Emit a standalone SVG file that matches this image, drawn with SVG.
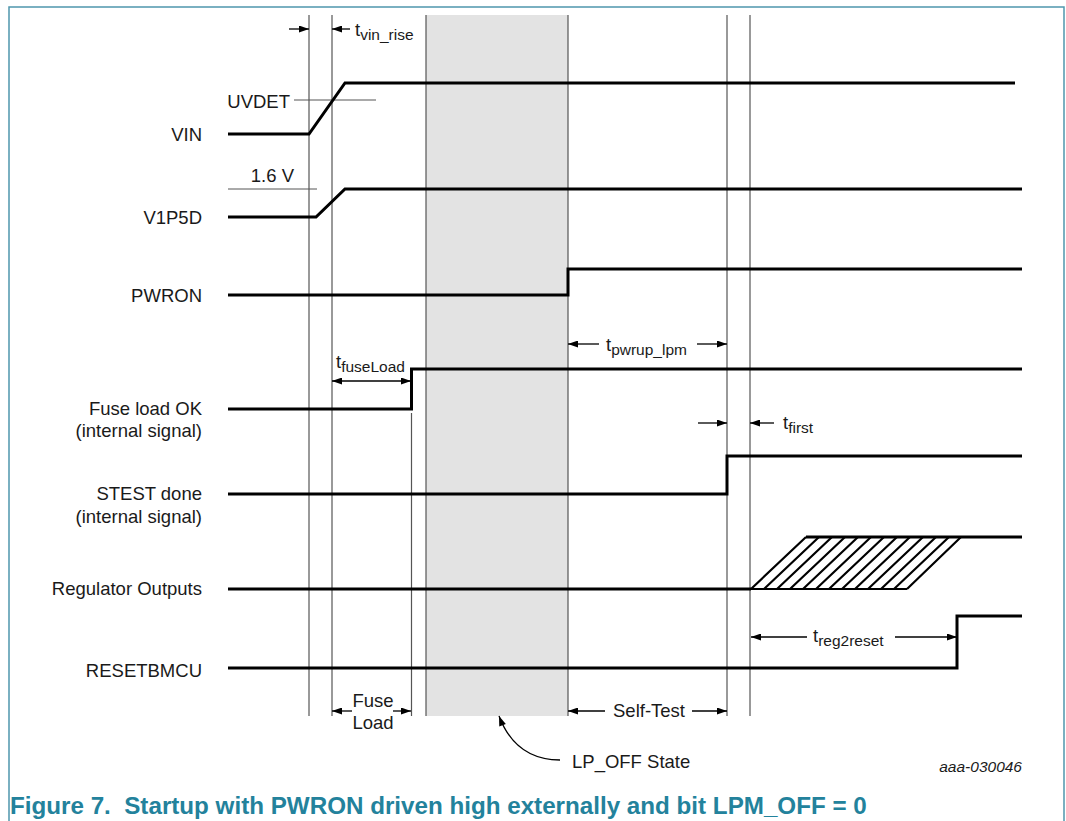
<svg xmlns="http://www.w3.org/2000/svg" width="1066" height="821" viewBox="0 0 1066 821">
<style>
.lbl{font-family:"Liberation Sans",Arial,sans-serif;font-size:18.5px;fill:#1a1a1a}
.sub{font-size:15.5px}
.sig{fill:none;stroke:#000;stroke-width:3}
.grid{stroke:#555;stroke-width:1.2;fill:none}
.thin{stroke:#555;stroke-width:1;fill:none}
.dim{stroke:#000;stroke-width:1.3;fill:none}
.hatch{stroke:#000;stroke-width:2.2;fill:none}
</style>
<defs>
<marker id="ah" viewBox="0 0 10 7" refX="10" refY="3.5" markerWidth="11" markerHeight="7" markerUnits="userSpaceOnUse" orient="auto">
<path d="M0,0 L10,3.5 L0,7 z" fill="#000"/>
</marker>
</defs>
<rect width="1066" height="821" fill="#fff"/>
<g id="frame">
<path d="M9,821 V7 H1064 V821" fill="none" stroke="#4f97ad" stroke-width="1.5"/>
</g>
<g id="lp-off-shade">
<rect x="426" y="15" width="142" height="701" fill="#e3e3e3"/>
</g>
<g id="guides">
<line class="grid" x1="309" y1="15" x2="309" y2="716"/>
<line class="grid" x1="332" y1="15" x2="332" y2="716"/>
<line class="grid" x1="411.5" y1="413" x2="411.5" y2="716"/>
<line class="grid" x1="426" y1="15" x2="426" y2="716"/>
<line class="grid" x1="568" y1="15" x2="568" y2="716"/>
<line class="grid" x1="727" y1="15" x2="727" y2="716"/>
<line class="grid" x1="750" y1="15" x2="750" y2="716"/>
<line class="thin" x1="294" y1="100" x2="376" y2="100"/>
<line class="thin" x1="228" y1="189" x2="317" y2="189"/>
</g>
<g id="signal-vin">
<text class="lbl" x="202" y="141" text-anchor="end">VIN</text>
<polyline class="sig" points="228,134 309,134 345,83 1015,83"/>
<text class="lbl" x="290" y="108" text-anchor="end">UVDET</text>
</g>
<g id="signal-v1p5d">
<text class="lbl" x="202" y="224" text-anchor="end">V1P5D</text>
<polyline class="sig" points="228,217 316,217 345,189 1022,189"/>
<text class="lbl" x="294" y="182" text-anchor="end">1.6 V</text>
</g>
<g id="signal-pwron">
<text class="lbl" x="202" y="302" text-anchor="end">PWRON</text>
<polyline class="sig" points="228,295 568,295 568,269 1022,269"/>
</g>
<g id="signal-fuse">
<text class="lbl" x="202" y="415" text-anchor="end">Fuse load OK</text>
<text class="lbl" x="202" y="437" text-anchor="end">(internal signal)</text>
<polyline class="sig" points="228,409 411.5,409 411.5,369 1022,369"/>
</g>
<g id="signal-stest">
<text class="lbl" x="202" y="500" text-anchor="end">STEST done</text>
<text class="lbl" x="202" y="523" text-anchor="end">(internal signal)</text>
<polyline class="sig" points="228,494 727,494 727,456 1022,456"/>
</g>
<g id="signal-regulator">
<text class="lbl" x="202" y="595" text-anchor="end">Regulator Outputs</text>
<polyline class="sig" points="228,589 751,589"/>
<polyline class="hatch" points="751,589 907,589"/>
<polyline class="sig" points="806,537 1022,537"/>
<path class="hatch" d="M751,589 L806,537 M764,589 L819,537 M777,589 L832,537 M790,589 L845,537 M803,589 L858,537 M816,589 L871,537 M829,589 L884,537 M842,589 L897,537 M855,589 L910,537 M868,589 L923,537 M881,589 L936,537 M894,589 L949,537 M907,589 L961,537"/>
</g>
<g id="signal-resetbmcu">
<text class="lbl" x="202" y="677" text-anchor="end">RESETBMCU</text>
<polyline class="sig" points="228,668 957,668 957,616 1022,616"/>
</g>
<g id="connectors">
<line class="dim" x1="289" y1="29" x2="309" y2="29" marker-end="url(#ah)"/>
<line class="dim" x1="350" y1="29" x2="332" y2="29" marker-end="url(#ah)"/>
<line class="dim" x1="372" y1="381" x2="332" y2="381" marker-end="url(#ah)"/>
<line class="dim" x1="372" y1="381" x2="411" y2="381" marker-end="url(#ah)"/>
<line class="dim" x1="599" y1="344" x2="568" y2="344" marker-end="url(#ah)"/>
<line class="dim" x1="697" y1="344" x2="727" y2="344" marker-end="url(#ah)"/>
<line class="dim" x1="698" y1="423" x2="727" y2="423" marker-end="url(#ah)"/>
<line class="dim" x1="774" y1="423" x2="750" y2="423" marker-end="url(#ah)"/>
<line class="dim" x1="807" y1="637" x2="751" y2="637" marker-end="url(#ah)"/>
<line class="dim" x1="895" y1="637" x2="957" y2="637" marker-end="url(#ah)"/>
<line class="dim" x1="352" y1="711" x2="332" y2="711" marker-end="url(#ah)"/>
<line class="dim" x1="393" y1="711" x2="411" y2="711" marker-end="url(#ah)"/>
<line class="dim" x1="605" y1="711" x2="568" y2="711" marker-end="url(#ah)"/>
<line class="dim" x1="692" y1="711" x2="727" y2="711" marker-end="url(#ah)"/>
<path class="dim" d="M560,760 C530,760 510,745 499,716" marker-end="url(#ah)"/>
</g>
<g id="timing-labels">
<text class="lbl" x="355" y="36">t<tspan class="sub" dy="4">vin_rise</tspan></text>
<text class="lbl" x="336" y="368">t<tspan class="sub" dy="4">fuseLoad</tspan></text>
<text class="lbl" x="606" y="351">t<tspan class="sub" dy="4">pwrup_lpm</tspan></text>
<text class="lbl" x="783" y="429">t<tspan class="sub" dy="4">first</tspan></text>
<text class="lbl" x="813" y="642">t<tspan class="sub" dy="4">reg2reset</tspan></text>
<text class="lbl" x="373" y="707" text-anchor="middle">Fuse</text>
<text class="lbl" x="373" y="729" text-anchor="middle">Load</text>
<text class="lbl" x="649" y="717" text-anchor="middle">Self-Test</text>
<text class="lbl" x="572" y="768">LP_OFF State</text>
<text x="1022" y="772" text-anchor="end" font-family="Liberation Sans, Arial, sans-serif" font-size="15.5" font-style="italic" fill="#1a1a1a">aaa-030046</text>
</g>
<g id="caption">
<text x="10" y="814" font-family="Liberation Sans, Arial, sans-serif" font-size="24.2" font-weight="bold" fill="#23829c" xml:space="preserve">Figure 7.  Startup with PWRON driven high externally and bit LPM_OFF = 0</text>
</g>
</svg>
